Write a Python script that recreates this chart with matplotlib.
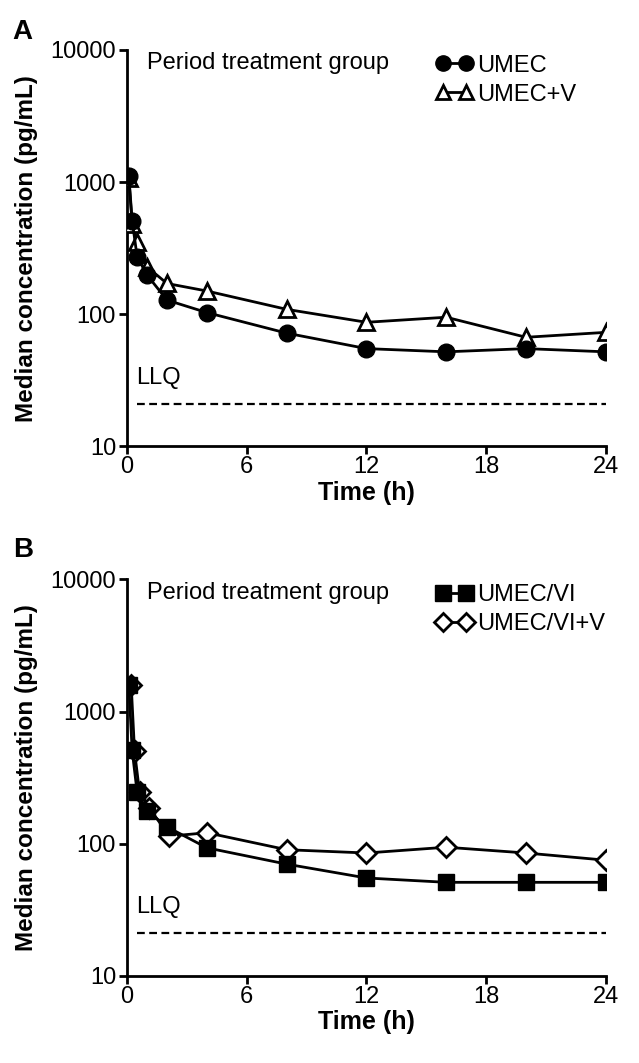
import matplotlib
matplotlib.use("Agg")
from matplotlib import pyplot as plt
from matplotlib.lines import Line2D

plt.rcParams['font.family'] = ['Liberation Sans', 'DejaVu Sans']

# sampling times (h)
times = [0.083, 0.25, 0.5, 1, 2, 4, 8, 12, 16, 20, 24]

# panel A medians (pg/mL)
umec = [1116, 512, 272, 198, 128, 103, 72, 55, 52, 55, 52]
umec_v = [1080, 480, 351, 228, 171, 150, 109, 87, 95, 67, 73]

# panel B medians (pg/mL)
umec_vi = [1600, 509, 245, 177, 134, 93, 70, 55, 51, 51, 51]
umec_vi_v = [1580, 500, 245, 185, 114, 121, 90, 85, 94, 85, 75]

llq = 21
llq_span = [0.5, 24]
x_ticks = [0, 6, 12, 18, 24]
y_ticks = [10, 100, 1000, 10000]

FS = 17


def style_axis(ax):
    ax.set_yscale("log")
    ax.set_ylim(10, 10000)
    ax.set_xlim(0, 24)
    ax.set_xticks(x_ticks)
    ax.set_yticks(y_ticks)
    ax.set_yticklabels([str(v) for v in y_ticks])
    ax.minorticks_off()
    ax.spines["top"].set_visible(False)
    ax.spines["right"].set_visible(False)
    for s in ["left", "bottom"]:
        ax.spines[s].set_linewidth(2)
    ax.tick_params(width=2, length=6, labelsize=FS, pad=2)
    ax.tick_params(axis="x", pad=1)
    ax.set_xlabel("Time (h)", fontsize=18, fontweight="bold", labelpad=2)
    ax.set_ylabel("Median concentration (pg/mL)", fontsize=17.5, fontweight="bold", labelpad=9)
    ax.plot(llq_span, [llq, llq], ls="--", color="black", lw=1.6, dashes=(3.5, 2))
    ax.text(0.45, 33, "LLQ", fontsize=FS, va="center", ha="left")
    ax.text(1.0, 7900, "Period treatment group", fontsize=FS, va="center", ha="left")


fig = plt.figure(figsize=(6.39, 10.63), dpi=100)
ax1 = fig.add_axes([0.199, 0.580, 0.749, 0.373])
ax2 = fig.add_axes([0.199, 0.082, 0.749, 0.373])

# panel A
style_axis(ax1)
ax1.plot(times, umec_v, color="black", lw=2, marker="^", ms=11, mfc="white", mec="black", mew=2, zorder=3)
ax1.plot(times, umec, color="black", lw=2, marker="o", ms=12, mfc="black", mec="black", zorder=4)
h1 = [Line2D([0], [0], color="black", lw=2, marker="o", ms=11, mfc="black"),
      Line2D([0], [0], color="black", lw=2, marker="^", ms=10, mfc="white", mew=2)]
ax1.legend(h1, ["UMEC", "UMEC+V"], loc="upper left", bbox_to_anchor=(0.625, 1.012), frameon=False,
           numpoints=2, handlelength=1.6, handletextpad=0.15, fontsize=FS, labelspacing=0.3,
           borderaxespad=0)
fig.text(0.02, 0.970, "A", fontsize=20, fontweight="bold", va="center")

# panel B
style_axis(ax2)
ax2.plot([t + 0.12 for t in times[:5]] + times[5:], umec_vi_v, color="black", lw=2, marker="D", ms=10,
         mfc="white", mec="black", mew=2, zorder=3)
ax2.plot(times, umec_vi, color="black", lw=2, marker="s", ms=12, mfc="black", mec="black", zorder=4)
h2 = [Line2D([0], [0], color="black", lw=2, marker="s", ms=12, mfc="black"),
      Line2D([0], [0], color="black", lw=2, marker="D", ms=9, mfc="white", mew=2)]
ax2.legend(h2, ["UMEC/VI", "UMEC/VI+V"], loc="upper left", bbox_to_anchor=(0.625, 1.012), frameon=False,
           numpoints=2, handlelength=1.6, handletextpad=0.15, fontsize=FS, labelspacing=0.3,
           borderaxespad=0)
fig.text(0.02, 0.483, "B", fontsize=20, fontweight="bold", va="center")

fig.savefig("out.png", dpi=100)
